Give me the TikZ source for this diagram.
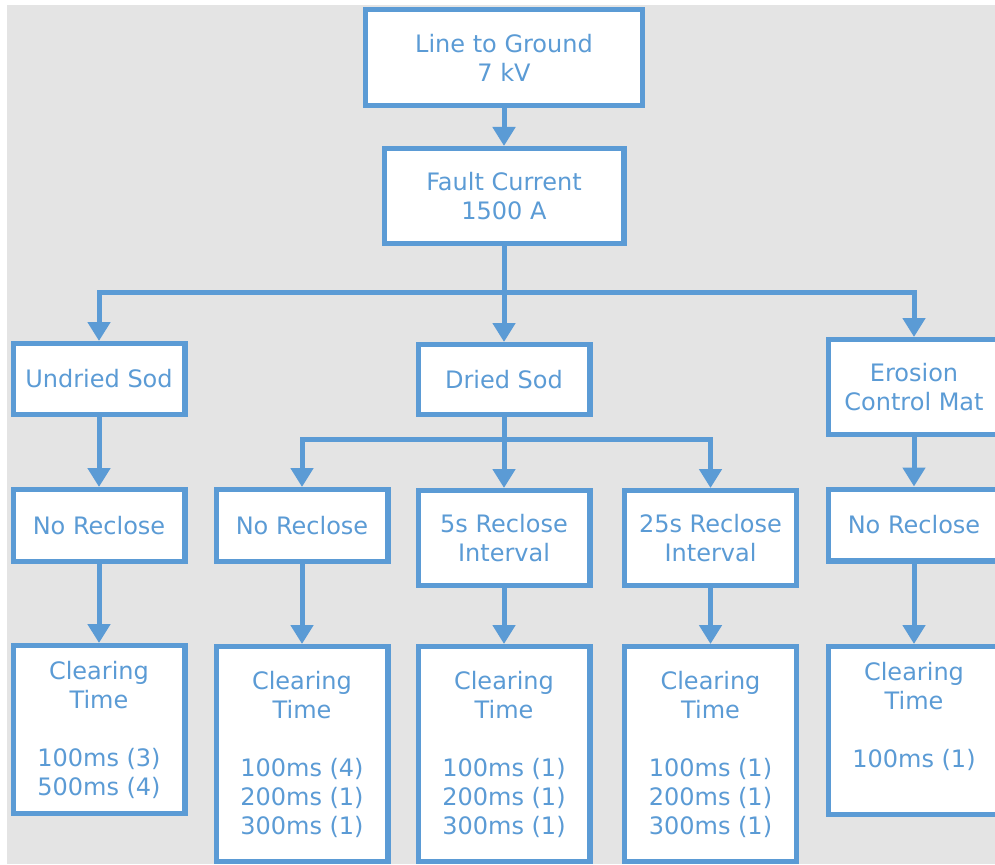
\documentclass[tikz,border=0pt]{standalone}
\usepackage{fontspec}
\setmainfont{DejaVu Sans}
\usetikzlibrary{arrows.meta}
\definecolor{flowblue}{HTML}{5B9BD5}
\definecolor{panel}{HTML}{E4E4E4}

\begin{document}
\begin{tikzpicture}[x=1pt,y=-1pt,
  box/.style={draw=flowblue, line width=5.3pt, fill=white, text=flowblue,
    align=center, inner sep=0pt, minimum width=171.7pt,
    font=\fontsize{24pt}{29pt}\selectfont},
  link/.style={draw=flowblue, line width=5pt,
    -{Triangle[width=22pt,length=19pt]}},
  trunk/.style={draw=flowblue, line width=5pt},
]
\useasboundingbox (0,0) rectangle (995,864);
\clip (0,0) rectangle (995,864);
\fill[panel] (7,5) rectangle (995,864);

% top of the tree
\node[box, minimum width=276.7pt, minimum height=95.7pt] (ground) at (504,57.5) {Line to Ground\\7 kV};
\node[box, minimum width=239.7pt, minimum height=94.7pt] (fault) at (504,196) {Fault Current\\1500 A};

% surface types
\node[box, minimum height=70.7pt] (undried) at (99,379) {Undried Sod};
\node[box, minimum height=69.7pt] (dried) at (504,379.5) {Dried Sod};
\node[box, minimum height=94.7pt] (mat) at (914,387) {Erosion\\Control Mat};

% reclose settings
\node[box, minimum height=71.7pt] (ucase) at (99,525.5) {No Reclose};
\node[box, minimum height=71.7pt] (dnone) at (302,525.5) {No Reclose};
\node[box, minimum height=94.7pt] (dfive) at (504,538) {5s Reclose\\Interval};
\node[box, minimum height=94.7pt] (dtwenty) at (710.5,538) {25s Reclose\\Interval};
\node[box, minimum height=71.7pt] (mcase) at (914,525) {No Reclose};

% clearing times
\node[box, minimum height=167.7pt] (ut) at (99,729.5) {Clearing\\Time\\[29pt]100ms (3)\\500ms (4)};
\node[box, minimum height=214.7pt] (dnt) at (302,754) {Clearing\\Time\\[29pt]100ms (4)\\200ms (1)\\300ms (1)};
\node[box, minimum height=214.7pt] (dft) at (504,754) {Clearing\\Time\\[29pt]100ms (1)\\200ms (1)\\300ms (1)};
\node[box, minimum height=214.7pt] (dtt) at (710.5,754) {Clearing\\Time\\[29pt]100ms (1)\\200ms (1)\\300ms (1)};
\node[box, minimum height=167.7pt] (mt) at (914,730.5) {Clearing\\Time\\[29pt]100ms (1)\\\phantom{100ms (1)}};

% branch points
\coordinate (split) at (504,292);
\coordinate (dsplit) at (504,439);

\draw[link] (ground) -- (fault);
\draw[trunk] (fault.south) -- (split);
\draw[link] (split) -| (undried.north);
\draw[link] (split) -- (dried.north);
\draw[link] (split) -| (mat.north);

\draw[trunk] (dried.south) -- (dsplit);
\draw[link] (dsplit) -| (dnone.north);
\draw[link] (dsplit) -- (dfive.north);
\draw[link] (dsplit) -| (dtwenty.north);

\draw[link] (undried) -- (ucase);
\draw[link] (mat) -- (mcase);

\draw[link] (ucase) -- (ut);
\draw[link] (dnone) -- (dnt);
\draw[link] (dfive) -- (dft);
\draw[link] (dtwenty) -- (dtt);
\draw[link] (mcase) -- (mt);
\end{tikzpicture}
\end{document}
